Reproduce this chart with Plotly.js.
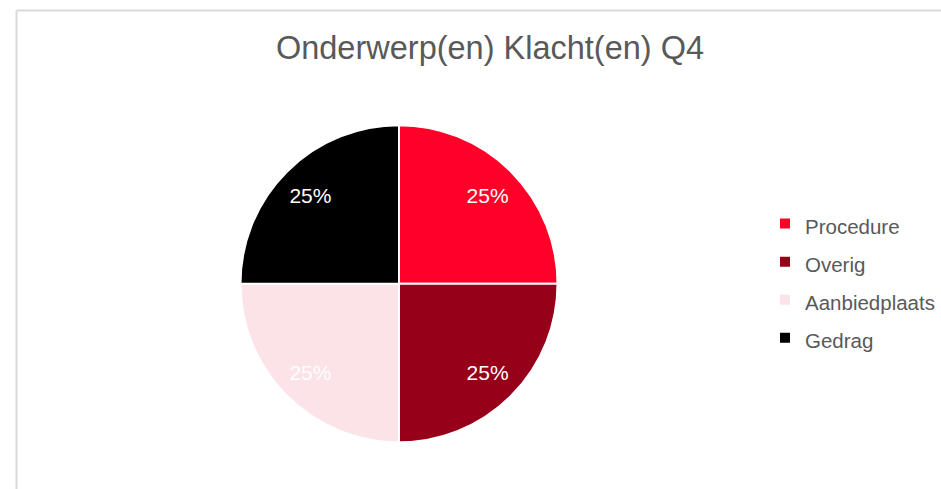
<!DOCTYPE html>
<html>
<head>
<meta charset="utf-8">
<script src="https://cdn.plot.ly/plotly-3.0.1.min.js"></script>
<style>html,body{margin:0;padding:0;background:#fff;}#chart{width:941px;height:489px;}</style>
</head>
<body>
<div id="chart"></div>
<script>
const categories = ["Procedure", "Overig", "Aanbiedplaats", "Gedrag"];
const values = [1, 1, 1, 1];
const colors = ["#FF0029", "#960018", "#FBE3E7", "#000000"];

const W = 941, H = 489;
const FONT = "Liberation Sans, Arial, sans-serif";
const pieDomain = {x: [240.5 / W, 557.5 / W], y: [1 - 442.5 / H, 1 - 125 / H]};
const legendLabels = categories.map(c => '<span style="font-size:20.5px">' + c + '</span>');

const pieTrace = {
  type: "pie",
  labels: legendLabels,
  values: values,
  sort: false,
  direction: "clockwise",
  rotation: 0,
  marker: {colors: colors, line: {color: "#ffffff", width: 2}},
  textinfo: "none",
  hoverinfo: "percent",
  domain: pieDomain
};

// Same data again, as a transparent ring, only to place the percentage labels further out
const labelTrace = {
  type: "pie",
  labels: legendLabels,
  values: values,
  sort: false,
  direction: "clockwise",
  rotation: 0,
  hole: 0.58,
  showlegend: false,
  marker: {colors: colors.map(() => "rgba(0,0,0,0)"), line: {width: 0}},
  textinfo: "percent",
  textposition: "inside",
  insidetextorientation: "horizontal",
  textfont: {family: FONT, size: 21, color: "#ffffff"},
  hoverinfo: "skip",
  domain: pieDomain
};

const layout = {
  width: W, height: H,
  margin: {l: 0, r: 0, t: 0, b: 0, autoexpand: false},
  paper_bgcolor: "#ffffff",
  title: {
    text: "Onderwerp(en) Klacht(en) Q4",
    font: {family: FONT, size: 32.5, color: "#595959"},
    x: 490 / W, xanchor: "center",
    y: 1 - 48 / H, yanchor: "middle", xref: "paper", yref: "paper"
  },
  showlegend: true,
  legend: {
    x: 765 / W, xanchor: "left",
    y: 1 - 281 / H, yanchor: "middle",
    font: {family: FONT, size: 27, color: "#595959"},
    itemwidth: 30,
    traceorder: "normal",
    bgcolor: "rgba(0,0,0,0)"
  },
  shapes: [
    {type: "line", xref: "paper", yref: "paper", x0: 16.5 / W, x1: 1, y0: 1 - 10.5 / H, y1: 1 - 10.5 / H, line: {color: "#d9d9d9", width: 2}},
    {type: "line", xref: "paper", yref: "paper", x0: 16.5 / W, x1: 16.5 / W, y0: 0, y1: 1 - 10.5 / H, line: {color: "#d9d9d9", width: 2}}
  ]
};

Plotly.newPlot("chart", [pieTrace, labelTrace], layout, {displayModeBar: false, staticPlot: true});
</script>
</body>
</html>
